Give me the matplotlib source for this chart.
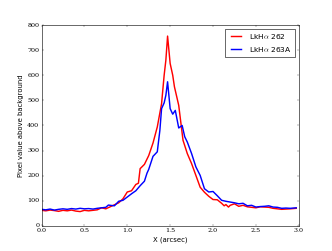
import matplotlib
matplotlib.use("Agg")
import matplotlib.pyplot as plt

# profile positions (arcsec)
x_red = [0.00, 0.05, 0.10, 0.15, 0.20, 0.25, 0.30, 0.35, 0.40, 0.45, 0.50, 0.55, 0.60, 0.65,
         0.70, 0.75, 0.80, 0.85, 0.90, 0.95, 1.00, 1.05, 1.10, 1.13, 1.15, 1.20, 1.25, 1.30,
         1.35, 1.40, 1.43, 1.45, 1.47, 1.50, 1.53, 1.55, 1.60, 1.65, 1.70, 1.75, 1.80, 1.85,
         1.90, 1.95, 2.00, 2.05, 2.10, 2.13, 2.15, 2.18, 2.20, 2.25, 2.30, 2.35, 2.40, 2.45,
         2.50, 2.55, 2.60, 2.65, 2.70, 2.75, 2.80, 2.85, 2.90, 2.97]
y_red = [62, 60, 63, 61, 58, 62, 60, 63, 59, 57, 62, 60, 62, 64,
         72, 68, 76, 84, 92, 108, 135, 140, 165, 170, 228, 245, 280, 330,
         394, 487, 600, 660, 756, 647, 600, 554, 480, 341, 288, 248, 201, 154,
         134, 118, 105, 104, 90, 80, 85, 75, 82, 88, 78, 82, 76, 74,
         72, 76, 75, 74, 70, 68, 66, 67, 68, 70]

x_blue = [0.00, 0.05, 0.10, 0.15, 0.20, 0.25, 0.30, 0.35, 0.40, 0.45, 0.50, 0.55, 0.60, 0.65,
          0.70, 0.75, 0.78, 0.80, 0.85, 0.90, 0.95, 1.00, 1.05, 1.10, 1.15, 1.20, 1.23, 1.25,
          1.30, 1.35, 1.38, 1.40, 1.43, 1.45, 1.47, 1.50, 1.53, 1.56, 1.60, 1.64, 1.67, 1.70,
          1.75, 1.80, 1.85, 1.90, 1.95, 2.00, 2.05, 2.10, 2.15, 2.20, 2.25, 2.30, 2.35, 2.40,
          2.45, 2.50, 2.55, 2.60, 2.65, 2.70, 2.75, 2.80, 2.85, 2.90, 2.97]
y_blue = [66, 64, 67, 63, 66, 68, 66, 69, 67, 70, 68, 69, 67, 70,
          72, 74, 83, 82, 80, 98, 102, 115, 128, 140, 160, 178, 210, 225,
          277, 295, 380, 467, 490, 520, 574, 467, 445, 460, 390, 400, 355, 334,
          288, 235, 201, 148, 135, 137, 120, 102, 98, 95, 92, 88, 90, 80,
          82, 75, 77, 78, 80, 75, 74, 70, 71, 70, 72]

plt.style.use("classic")

fig = plt.figure(figsize=(8, 6.05), dpi=41.5, facecolor="white")
ax = fig.add_subplot(111)

ax.plot(x_red, y_red, color="red", lw=2.5, label=r"LkH$\alpha$ 262")
ax.plot(x_blue, y_blue, color="blue", lw=2.5, label=r"LkH$\alpha$ 263A")

ax.set_xlim(0, 3)
ax.set_ylim(0, 800)
ax.set_xlabel("X (arcsec)")
ax.set_ylabel("Pixel value above background")

for lab in ax.get_xticklabels() + ax.get_yticklabels():
    lab.set_fontfamily("DejaVu Serif")
    lab.set_fontsize(11)

ax.legend(loc="upper right", fontsize=13)

fig.savefig("out.png", dpi=41.5, facecolor="white")
